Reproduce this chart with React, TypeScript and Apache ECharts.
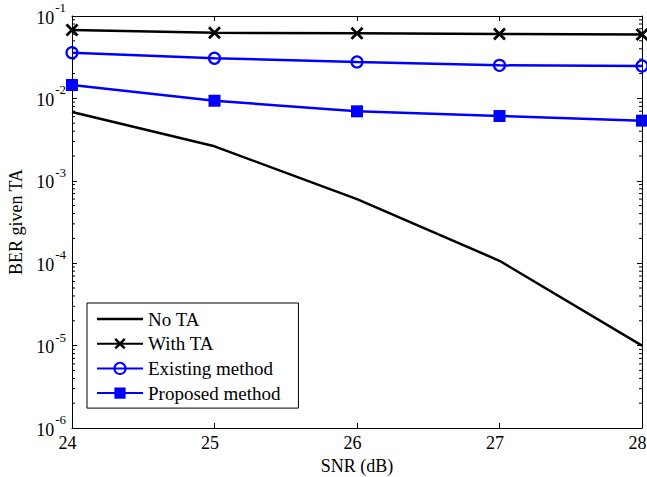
import React, { useEffect, useRef } from "react";
import * as echarts from "echarts";

const snr = [24, 25, 26, 27, 28];
const noTA = [0.00684, 0.00262, 0.000598, 0.000107, 0.00001];
const withTA = [0.0676, 0.0626, 0.0616, 0.0605, 0.0597];
const existing = [0.0359, 0.0307, 0.0277, 0.0252, 0.0247];
const proposed = [0.01455, 0.00937, 0.00697, 0.00611, 0.00537];
const seriesNames = ["No TA", "With TA", "Existing method", "Proposed method"];
const decadeExps = [-6, -5, -4, -3, -2];
const minorMults = [2, 3, 4, 5, 6, 7, 8, 9];

const FONT = "Liberation Serif";
const BLUE = "#0000ff";
const CROSS = "path://M0,1.5L1.5,0L5,3.5L8.5,0L10,1.5L6.5,5L10,8.5L8.5,10L5,6.5L1.5,10L0,8.5L3.5,5Z";
const LINE_ICON = "path://M0,0L46,0L46,2.5L0,2.5Z";

export default function App() {
  const ref = useRef<HTMLDivElement>(null);
  useEffect(() => {
    if (!ref.current) return;
    const chart = echarts.init(ref.current, null, { renderer: "svg" });
    const pair = (arr: number[]) => snr.map((x, i) => [x, arr[i]]);
    const minorData: number[][] = [];
    decadeExps.forEach((e) => minorMults.forEach((m) => minorData.push([24, m * Math.pow(10, e)])));

    const yLabel = {
      fontFamily: FONT,
      margin: 6,
      formatter: (v: number) => `{b|10}{s|${Math.round(Math.log10(v))}}`,
      rich: {
        b: { fontFamily: FONT, fontSize: 18, color: "#000", padding: [3, 0, 0, 0] },
        s: { fontFamily: FONT, fontSize: 13, color: "#000", padding: [0, 0, 17, 1] },
      },
    };

    chart.setOption({
      animation: false,
      backgroundColor: "#fff",
      grid: { left: 72, right: 5, top: 16, bottom: 49, containLabel: false, outerBoundsMode: "none" },
      xAxis: [
        {
          type: "value", min: 24, max: 28, interval: 1, position: "bottom",
          name: "SNR (dB)", nameLocation: "middle", nameGap: 25,
          nameTextStyle: { fontFamily: FONT, fontSize: 18, color: "#000" },
          axisLine: { lineStyle: { color: "#000", width: 1 } },
          axisTick: { inside: true, length: 5, lineStyle: { color: "#000" } },
          axisLabel: { fontFamily: FONT, fontSize: 18, color: "#000", margin: 6, padding: [0, 9, 0, 0] },
          splitLine: { show: false },
        },
        {
          type: "value", min: 24, max: 28, interval: 1, position: "top",
          axisLine: { lineStyle: { color: "#000", width: 1 } },
          axisTick: { inside: true, length: 5, lineStyle: { color: "#000" } },
          axisLabel: { show: false },
          splitLine: { show: false },
        },
      ],
      yAxis: [
        {
          type: "log", logBase: 10, min: 1e-6, max: 0.1, interval: 1, position: "left",
          name: "BER given TA", nameLocation: "middle", nameGap: 42, nameRotate: 90,
          nameTextStyle: { fontFamily: FONT, fontSize: 18, color: "#000" },
          axisLine: { show: true, lineStyle: { color: "#000", width: 1 } },
          axisTick: { show: true, inside: true, length: 5, lineStyle: { color: "#000" } },
          axisLabel: yLabel,
          splitLine: { show: false },
        },
        {
          type: "log", logBase: 10, min: 1e-6, max: 0.1, interval: 1, position: "right",
          axisLine: { show: true, lineStyle: { color: "#000", width: 1 } },
          axisTick: { show: true, inside: true, length: 5, lineStyle: { color: "#000" } },
          axisLabel: { show: false },
          splitLine: { show: false },
        },
      ],
      legend: {
        data: [
          { name: seriesNames[0], icon: LINE_ICON, itemStyle: { color: "#000" } },
          seriesNames[1], seriesNames[2], seriesNames[3],
        ],
        orient: "vertical",
        left: 87, top: 303,
        padding: [6, 18, 5, 9],
        itemWidth: 46, itemHeight: 14, itemGap: 4.7,
        borderColor: "#000", borderWidth: 1, backgroundColor: "#fff",
        textStyle: { fontFamily: FONT, fontSize: 19, color: "#000", lineHeight: 20 },
      },
      series: [
        {
          name: "No TA", type: "line", data: pair(noTA), symbol: "none",
          lineStyle: { color: "#000", width: 2.5 }, itemStyle: { color: "#000" },
        },
        {
          name: "With TA", type: "line", data: pair(withTA), symbol: CROSS, symbolSize: 13,
          lineStyle: { color: "#000", width: 2.5 }, itemStyle: { color: "#000" },
        },
        {
          name: "Existing method", type: "line", data: pair(existing), symbol: "circle", symbolSize: 11,
          lineStyle: { color: BLUE, width: 2.5 },
          itemStyle: { color: "transparent", borderColor: BLUE, borderWidth: 2.2 },
        },
        {
          name: "Proposed method", type: "line", data: pair(proposed), symbol: "rect", symbolSize: 12,
          lineStyle: { color: BLUE, width: 2.5 }, itemStyle: { color: BLUE },
        },
        {
          name: "minor", type: "custom", silent: true, z: 10,
          data: minorData,
          renderItem: (params: any, api: any) => {
            const v = api.value(1);
            const l = api.coord([24, v]);
            const r = api.coord([28, v]);
            return {
              type: "group",
              children: [
                { type: "line", shape: { x1: l[0], y1: l[1], x2: l[0] + 3, y2: l[1] }, style: { stroke: "#000", lineWidth: 1 } },
                { type: "line", shape: { x1: r[0], y1: r[1], x2: r[0] - 3, y2: r[1] }, style: { stroke: "#000", lineWidth: 1 } },
              ],
            };
          },
        },
      ],
    });
    return () => chart.dispose();
  }, []);
  return <div ref={ref} style={{ width: 647, height: 477, position: "absolute", left: 0, top: 0 }} />;
}
